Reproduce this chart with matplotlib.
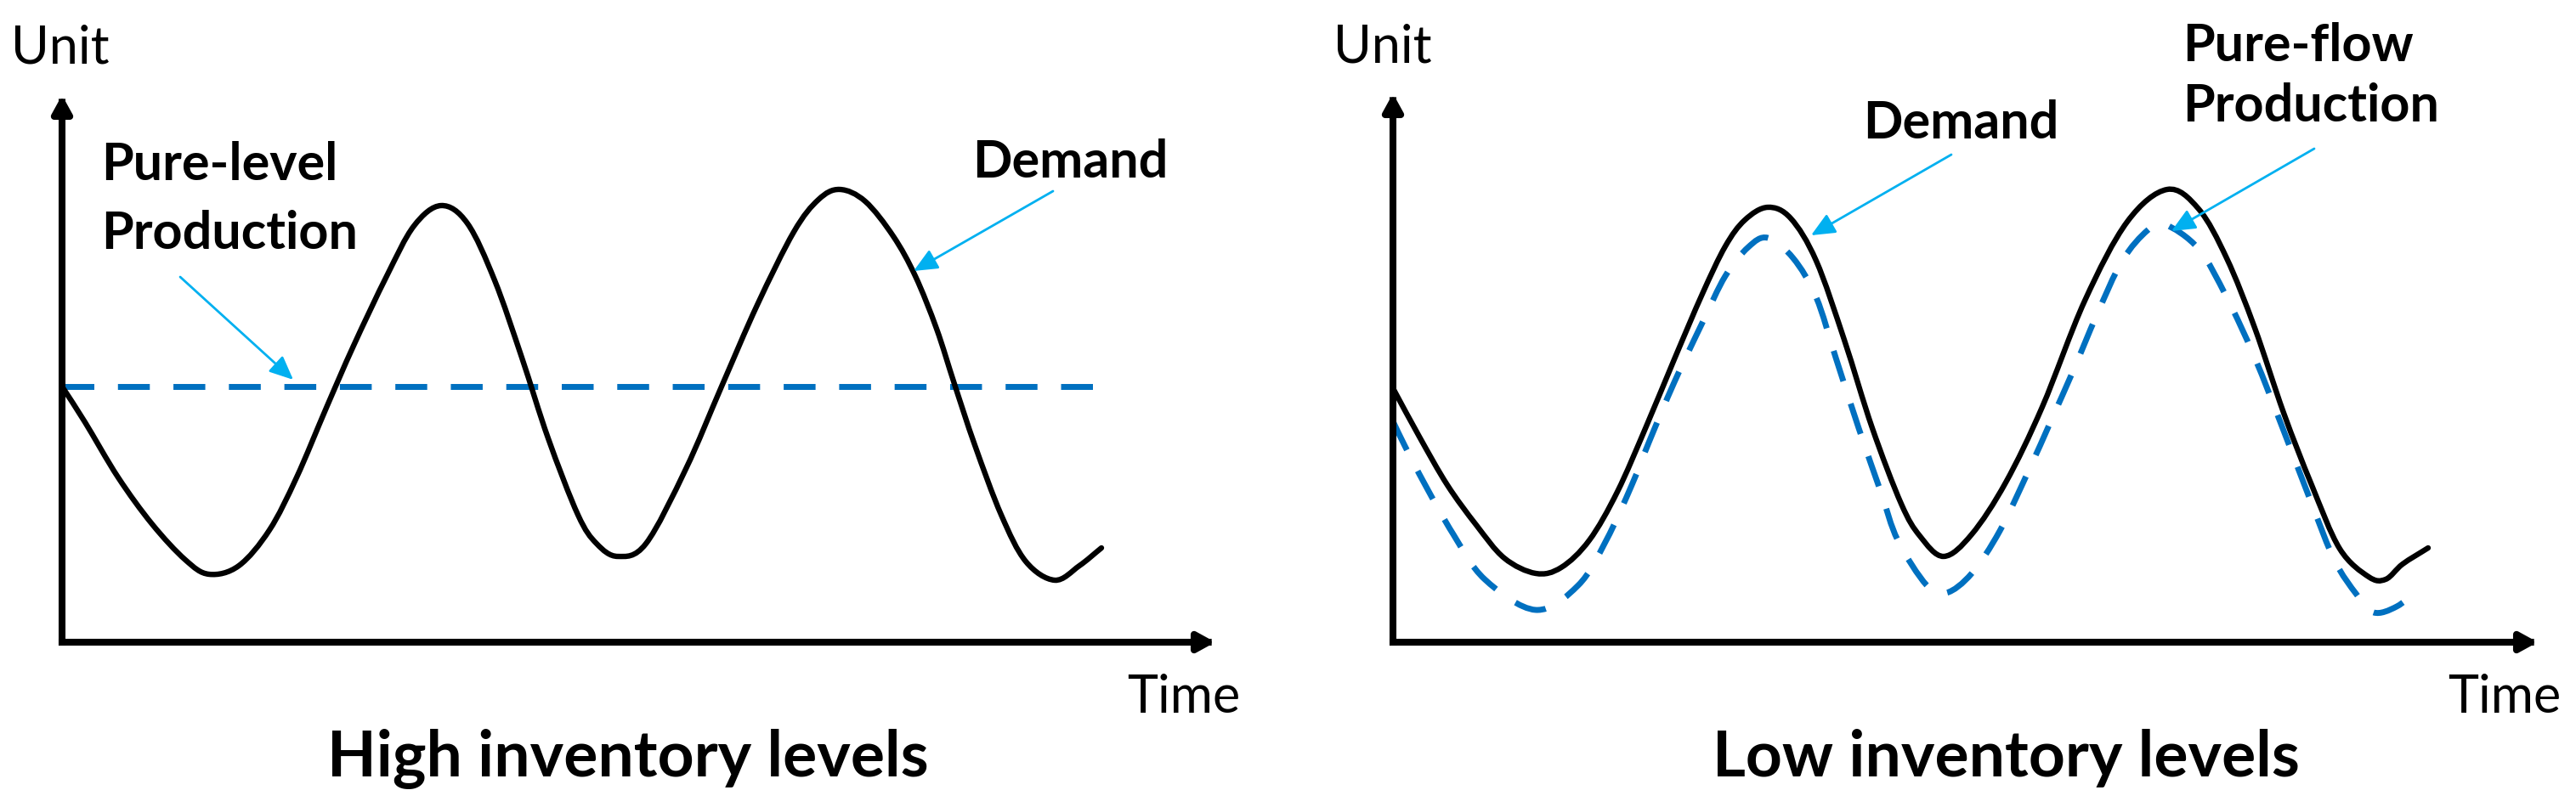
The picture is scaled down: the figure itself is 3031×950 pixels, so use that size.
import numpy as np
import matplotlib
matplotlib.use("Agg")
import matplotlib.pyplot as plt
from matplotlib.path import Path
from matplotlib.patches import PathPatch

plt.rcParams['font.family'] = ['Lato', 'DejaVu Sans']

# ---- left panel: high inventory levels (demand vs flat production) ----
t_dem_high = [0.0, 2.7, 6.6, 10.6, 14.5, 17.3, 20.8, 24.4, 27.6, 31.1, 34.3, 38.2,
              41.4, 44.6, 47.7, 50.9, 54.1, 57.2, 60.7, 62.9, 65.4, 68.7, 73.4,
              77.6, 81.8, 86.1, 89.0, 91.5, 94.5, 97.8, 100.4, 102.9, 105.0,
              107.4, 110.5, 113.4, 116.8, 119.7, 122.3]
u_dem_high = [30.1, 25.9, 19.4, 13.9, 9.7, 8.0, 9.0, 13.2, 19.4, 27.6, 34.9, 43.1,
              49.0, 51.4, 49.3, 42.6, 33.5, 24.0, 15.0, 11.6, 10.1, 11.6, 20.4,
              30.1, 39.7, 48.3, 52.1, 53.3, 51.9, 47.8, 43.1, 36.9, 30.4,
              23.2, 15.0, 9.5, 7.3, 9.0, 11.1]
t_level = [0.0, 122.5]
u_level = [30.1, 30.1]

# ---- right panel: low inventory levels (demand vs pure-flow production) ----
t_dem_low = [0.0, 3.1, 6.4, 9.8, 13.1, 16.8, 19.8, 23.1, 26.4, 29.8, 33.1, 36.4,
             39.1, 41.4, 44.1, 46.8, 49.8, 53.1, 56.4, 59.8, 62.0, 64.8, 68.1,
             72.1, 76.4, 81.4, 86.4, 91.1, 94.8, 98.1, 101.4, 104.8, 108.1,
             111.4, 114.8, 116.8, 118.8, 121.8]
u_dem_low = [29.9, 24.2, 18.5, 13.8, 9.9, 8.1, 8.8, 12.0, 17.7, 25.4, 33.3, 41.0,
             46.6, 49.7, 51.2, 49.9, 44.9, 35.6, 25.2, 16.3, 12.5, 10.1, 12.7,
             18.8, 27.7, 40.2, 49.5, 53.3, 51.0, 45.2, 37.0, 27.0, 18.5,
             11.0, 7.7, 7.4, 9.2, 11.1]
t_flow = [0.0, 1.4, 3.8, 7.1, 10.8, 16.8, 21.8, 25.1, 28.1, 30.1, 33.1, 36.4,
          39.1, 41.8, 44.1, 47.1, 49.8, 52.1, 54.8, 57.4, 59.4, 62.8, 65.1,
          68.1, 71.4, 74.8, 77.4, 80.1, 82.8, 85.8, 88.8, 90.8, 94.8, 98.1,
          101.4, 104.8, 108.1, 110.8, 113.4, 115.4, 118.1, 120.8]
u_flow = [26.0, 23.1, 18.5, 12.7, 7.4, 3.8, 6.7, 12.0, 18.5, 23.5, 30.6, 37.6,
          43.1, 46.5, 47.6, 45.2, 40.6, 33.5, 25.2, 17.7, 12.0, 6.7, 5.8,
          8.1, 13.1, 20.2, 26.0, 32.1, 38.5, 44.9, 48.5, 49.2, 46.3, 40.6,
          33.5, 24.9, 16.3, 9.6, 5.6, 3.5, 4.2, 6.3]

BLACK = 'black'
DASH_BLUE = '#0070C0'
ARROW_BLUE = '#00B0F0'
DASHES = (0, (5.4, 4.0))

W, H = 3031, 950
fig = plt.figure(figsize=(W / 100, H / 100), dpi=100)


def smooth_path(t, u):
    # bezier curve through the read points (catmull-rom tangents)
    p = np.column_stack([t, u])
    ext = np.vstack([2 * p[0] - p[1], p, 2 * p[-1] - p[-2]])
    verts = [p[0]]
    codes = [Path.MOVETO]
    for i in range(len(p) - 1):
        a, b, c, d = ext[i], ext[i + 1], ext[i + 2], ext[i + 3]
        verts += [b + (c - a) / 6, c - (d - b) / 6, c]
        codes += [Path.CURVE4] * 3
    return Path(verts, codes)


def panel(x0, y0, x1, y1):
    # x0,y0 origin, x1 end of time arrow, y1 end of unit arrow (pixels)
    ax = fig.add_axes([x0 / W, 1 - y0 / H, (x1 - x0) / W, (y0 - y1) / H])
    ax.set_xlim(0, (x1 - x0) / 10)
    ax.set_ylim(0, (y0 - y1) / 10)
    ax.axis('off')
    ap = dict(arrowstyle='-|>,head_length=0.6,head_width=0.33', mutation_scale=20,
              lw=5.8, color=BLACK, shrinkA=0, shrinkB=0, capstyle='projecting')
    ax.annotate('', xy=(1, 0), xytext=(0, 0), xycoords='axes fraction',
                arrowprops=ap, annotation_clip=False, zorder=6)
    ax.annotate('', xy=(0, 1), xytext=(0, 0), xycoords='axes fraction',
                arrowprops=ap, annotation_clip=False, zorder=6)
    return ax


def callout(ax, tail, tip):
    ax.annotate('', xy=tip, xytext=tail,
                arrowprops=dict(arrowstyle='-|>,head_length=0.85,head_width=0.38',
                                mutation_scale=20, lw=2.0, color=ARROW_BLUE,
                                shrinkA=0, shrinkB=0),
                annotation_clip=False, zorder=7)


def texts(ax, unit_x, time_x, title_x, title):
    ax.text(unit_x, 68.2, 'Unit', fontsize=44, ha='left', va='baseline', clip_on=False)
    ax.text(time_x, -8.3, 'Time', fontsize=44, ha='left', va='baseline', clip_on=False)
    ax.text(title_x, -15.8, title, fontsize=54, fontweight='bold', ha='center',
            va='baseline', clip_on=False)


# left
ax1 = panel(73, 756, 1430, 112)
ax1.plot(t_level, u_level, color=DASH_BLUE, lw=5, linestyle=DASHES, zorder=2)
ax1.add_patch(PathPatch(smooth_path(t_dem_high, u_dem_high), fill=False,
                        edgecolor=BLACK, lw=4.6, capstyle='round', zorder=3))
texts(ax1, -6.0, 125.3, 66.6, 'High inventory levels')
ax1.text(4.6, 54.4, 'Pure-level', fontsize=44, fontweight='bold', va='baseline')
ax1.text(4.6, 46.3, 'Production', fontsize=44, fontweight='bold', va='baseline')
ax1.text(107.1, 54.7, 'Demand', fontsize=44, fontweight='bold', va='baseline')
callout(ax1, (13.9, 43.0), (27.2, 30.9))
callout(ax1, (116.6, 53.1), (100.2, 43.7))

# right
ax2 = panel(1639, 756, 2986, 110)
ax2.add_patch(PathPatch(smooth_path(t_flow, u_flow), fill=False, edgecolor=DASH_BLUE,
                        lw=5, linestyle=DASHES, zorder=2))
ax2.add_patch(PathPatch(smooth_path(t_dem_low, u_dem_low), fill=False,
                        edgecolor=BLACK, lw=4.6, capstyle='round', zorder=3))
texts(ax2, -7.0, 124.1, 72.1, 'Low inventory levels')
ax2.text(55.3, 59.3, 'Demand', fontsize=44, fontweight='bold', va='baseline')
ax2.text(92.9, 68.4, 'Pure-flow', fontsize=44, fontweight='bold', va='baseline',
         clip_on=False)
ax2.text(92.9, 61.3, 'Production', fontsize=44, fontweight='bold', va='baseline')
callout(ax2, (65.7, 57.4), (49.2, 47.9))
callout(ax2, (108.4, 58.1), (91.6, 48.4))

fig.savefig('out.png', dpi=100, facecolor='white')
